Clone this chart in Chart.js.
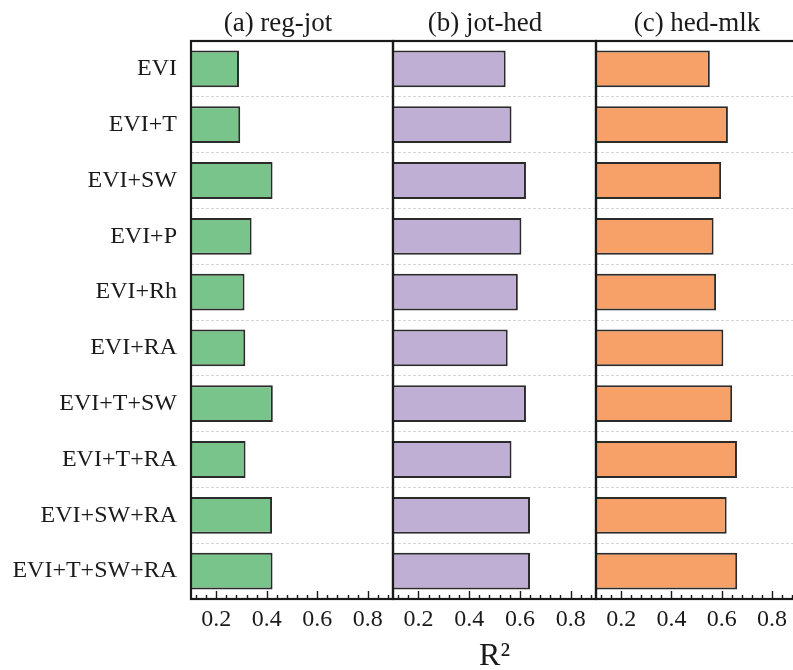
<!DOCTYPE html>
<html>
<head>
<meta charset="utf-8">
<script src="https://cdn.jsdelivr.net/npm/chart.js@4.4.1/dist/chart.umd.min.js"></script>
<style>
  html, body { margin: 0; padding: 0; background: #fff; overflow: hidden; }
  #wrap { position: relative; width: 793px; height: 670px; overflow: hidden; }
  canvas { position: absolute; top: 0; }
</style>
</head>
<body>
<div id="wrap">
  <canvas id="pa" width="400" height="670" style="left:0px"></canvas>
  <canvas id="pb" width="223" height="670" style="left:383px"></canvas>
  <canvas id="pc" width="221" height="670" style="left:586px"></canvas>
</div>
<script>
// Model combinations (shared y categories)
const categories = ['EVI', 'EVI+T', 'EVI+SW', 'EVI+P', 'EVI+Rh', 'EVI+RA',
                    'EVI+T+SW', 'EVI+T+RA', 'EVI+SW+RA', 'EVI+T+SW+RA'];

// R² per growth stage
const regJot = [0.290, 0.295, 0.423, 0.340, 0.312, 0.315, 0.424, 0.316, 0.421, 0.423];
const jotHed = [0.544, 0.567, 0.624, 0.606, 0.592, 0.552, 0.624, 0.567, 0.640, 0.640];
const hedMlk = [0.553, 0.625, 0.598, 0.568, 0.578, 0.607, 0.642, 0.661, 0.620, 0.662];

const panelTitles = ['(a) reg-jot', '(b) jot-hed', '(c) hed-mlk'];
const xTickValues = [0.2, 0.4, 0.6, 0.8];
const xTickLabels = ['0.2', '0.4', '0.6', '0.8'];
const axisTitle = 'R\u00B2';

const SERIF = "'Liberation Serif', 'Times New Roman', serif";
const INK = '#1a1a1a';

// Panel frame, inward bottom ticks and the panel heading
const frameAndTicks = {
  id: 'frameAndTicks',
  afterDraw(chart, args, opts) {
    const { ctx, chartArea: a } = chart;
    const x = chart.scales.x;
    ctx.save();
    ctx.strokeStyle = INK;
    ctx.lineWidth = 1.4;
    ctx.beginPath();
    for (let k = 3; k <= 22; k++) {
      const v = k * 0.04;
      const major = xTickValues.some(t => Math.abs(t - v) < 1e-6);
      const px = Math.round(x.getPixelForValue(v)) + 0.5;
      ctx.moveTo(px, a.bottom);
      ctx.lineTo(px, a.bottom - (major ? 8 : 4));
    }
    ctx.stroke();
    ctx.lineWidth = 2.2;
    ctx.strokeRect(a.left, a.top, a.right - a.left, a.bottom - a.top);

    ctx.fillStyle = INK;
    ctx.font = '27px ' + SERIF;
    ctx.textAlign = 'center';
    ctx.textBaseline = 'middle';
    ctx.fillText(opts.heading, a.left + opts.headingOffset, 24);
    ctx.restore();
  }
};

function makePanel(id, values, color, idx, cfg) {
  return new Chart(document.getElementById(id), {
    type: 'bar',
    data: {
      labels: categories,
      datasets: [{
        data: values,
        backgroundColor: color,
        borderColor: '#2b2b2b',
        borderWidth: 2,
        borderSkipped: 'start',
        categoryPercentage: 1,
        barPercentage: 0.66
      }]
    },
    options: {
      indexAxis: 'y',
      responsive: false,
      animation: false,
      layout: { padding: { top: 41, bottom: 0, left: cfg.padL, right: cfg.padR } },
      plugins: {
        legend: { display: false },
        tooltip: { enabled: false },
        frameAndTicks: { heading: panelTitles[idx], headingOffset: cfg.headOff }
      },
      scales: {
        x: {
          type: 'linear',
          min: 0.1,
          max: 0.9,
          beginAtZero: false,
          grid: { display: false, drawTicks: false },
          border: { display: false },
          afterBuildTicks: s => { s.ticks = xTickValues.map(v => ({ value: v })); },
          afterFit: s => { s.height = 71; },
          ticks: {
            padding: 6,
            color: INK,
            font: { family: SERIF, size: 24 },
            callback: (v, i) => xTickLabels[i]
          },
          title: cfg.showTitle
            ? { display: true, text: axisTitle, color: INK, font: { family: SERIF, size: 32, lineHeight: 0.85 }, padding: 0 }
            : { display: false }
        },
        y: {
          grid: { color: '#d4d4d4', lineWidth: 1, drawTicks: false, offset: true },
          border: { display: false, dash: [3, 2] },
          ticks: {
            display: cfg.labels,
            padding: 14,
            color: INK,
            font: { family: SERIF, size: 24 }
          },
          afterFit: s => { s.width = cfg.yWidth; }
        }
      }
    },
    plugins: [frameAndTicks]
  });
}

makePanel('pa', regJot, 'rgb(120,196,138)', 0,
  { padL: 0, padR: 7, yWidth: 191, labels: true, headOff: 87, showTitle: false });
makePanel('pb', jotHed, 'rgb(192,175,212)', 1,
  { padL: 10, padR: 10, yWidth: 0, labels: false, headOff: 92, showTitle: true });
makePanel('pc', hedMlk, 'rgb(247,161,105)', 2,
  { padL: 10, padR: 10, yWidth: 0, labels: false, headOff: 101, showTitle: false });
</script>
</body>
</html>
